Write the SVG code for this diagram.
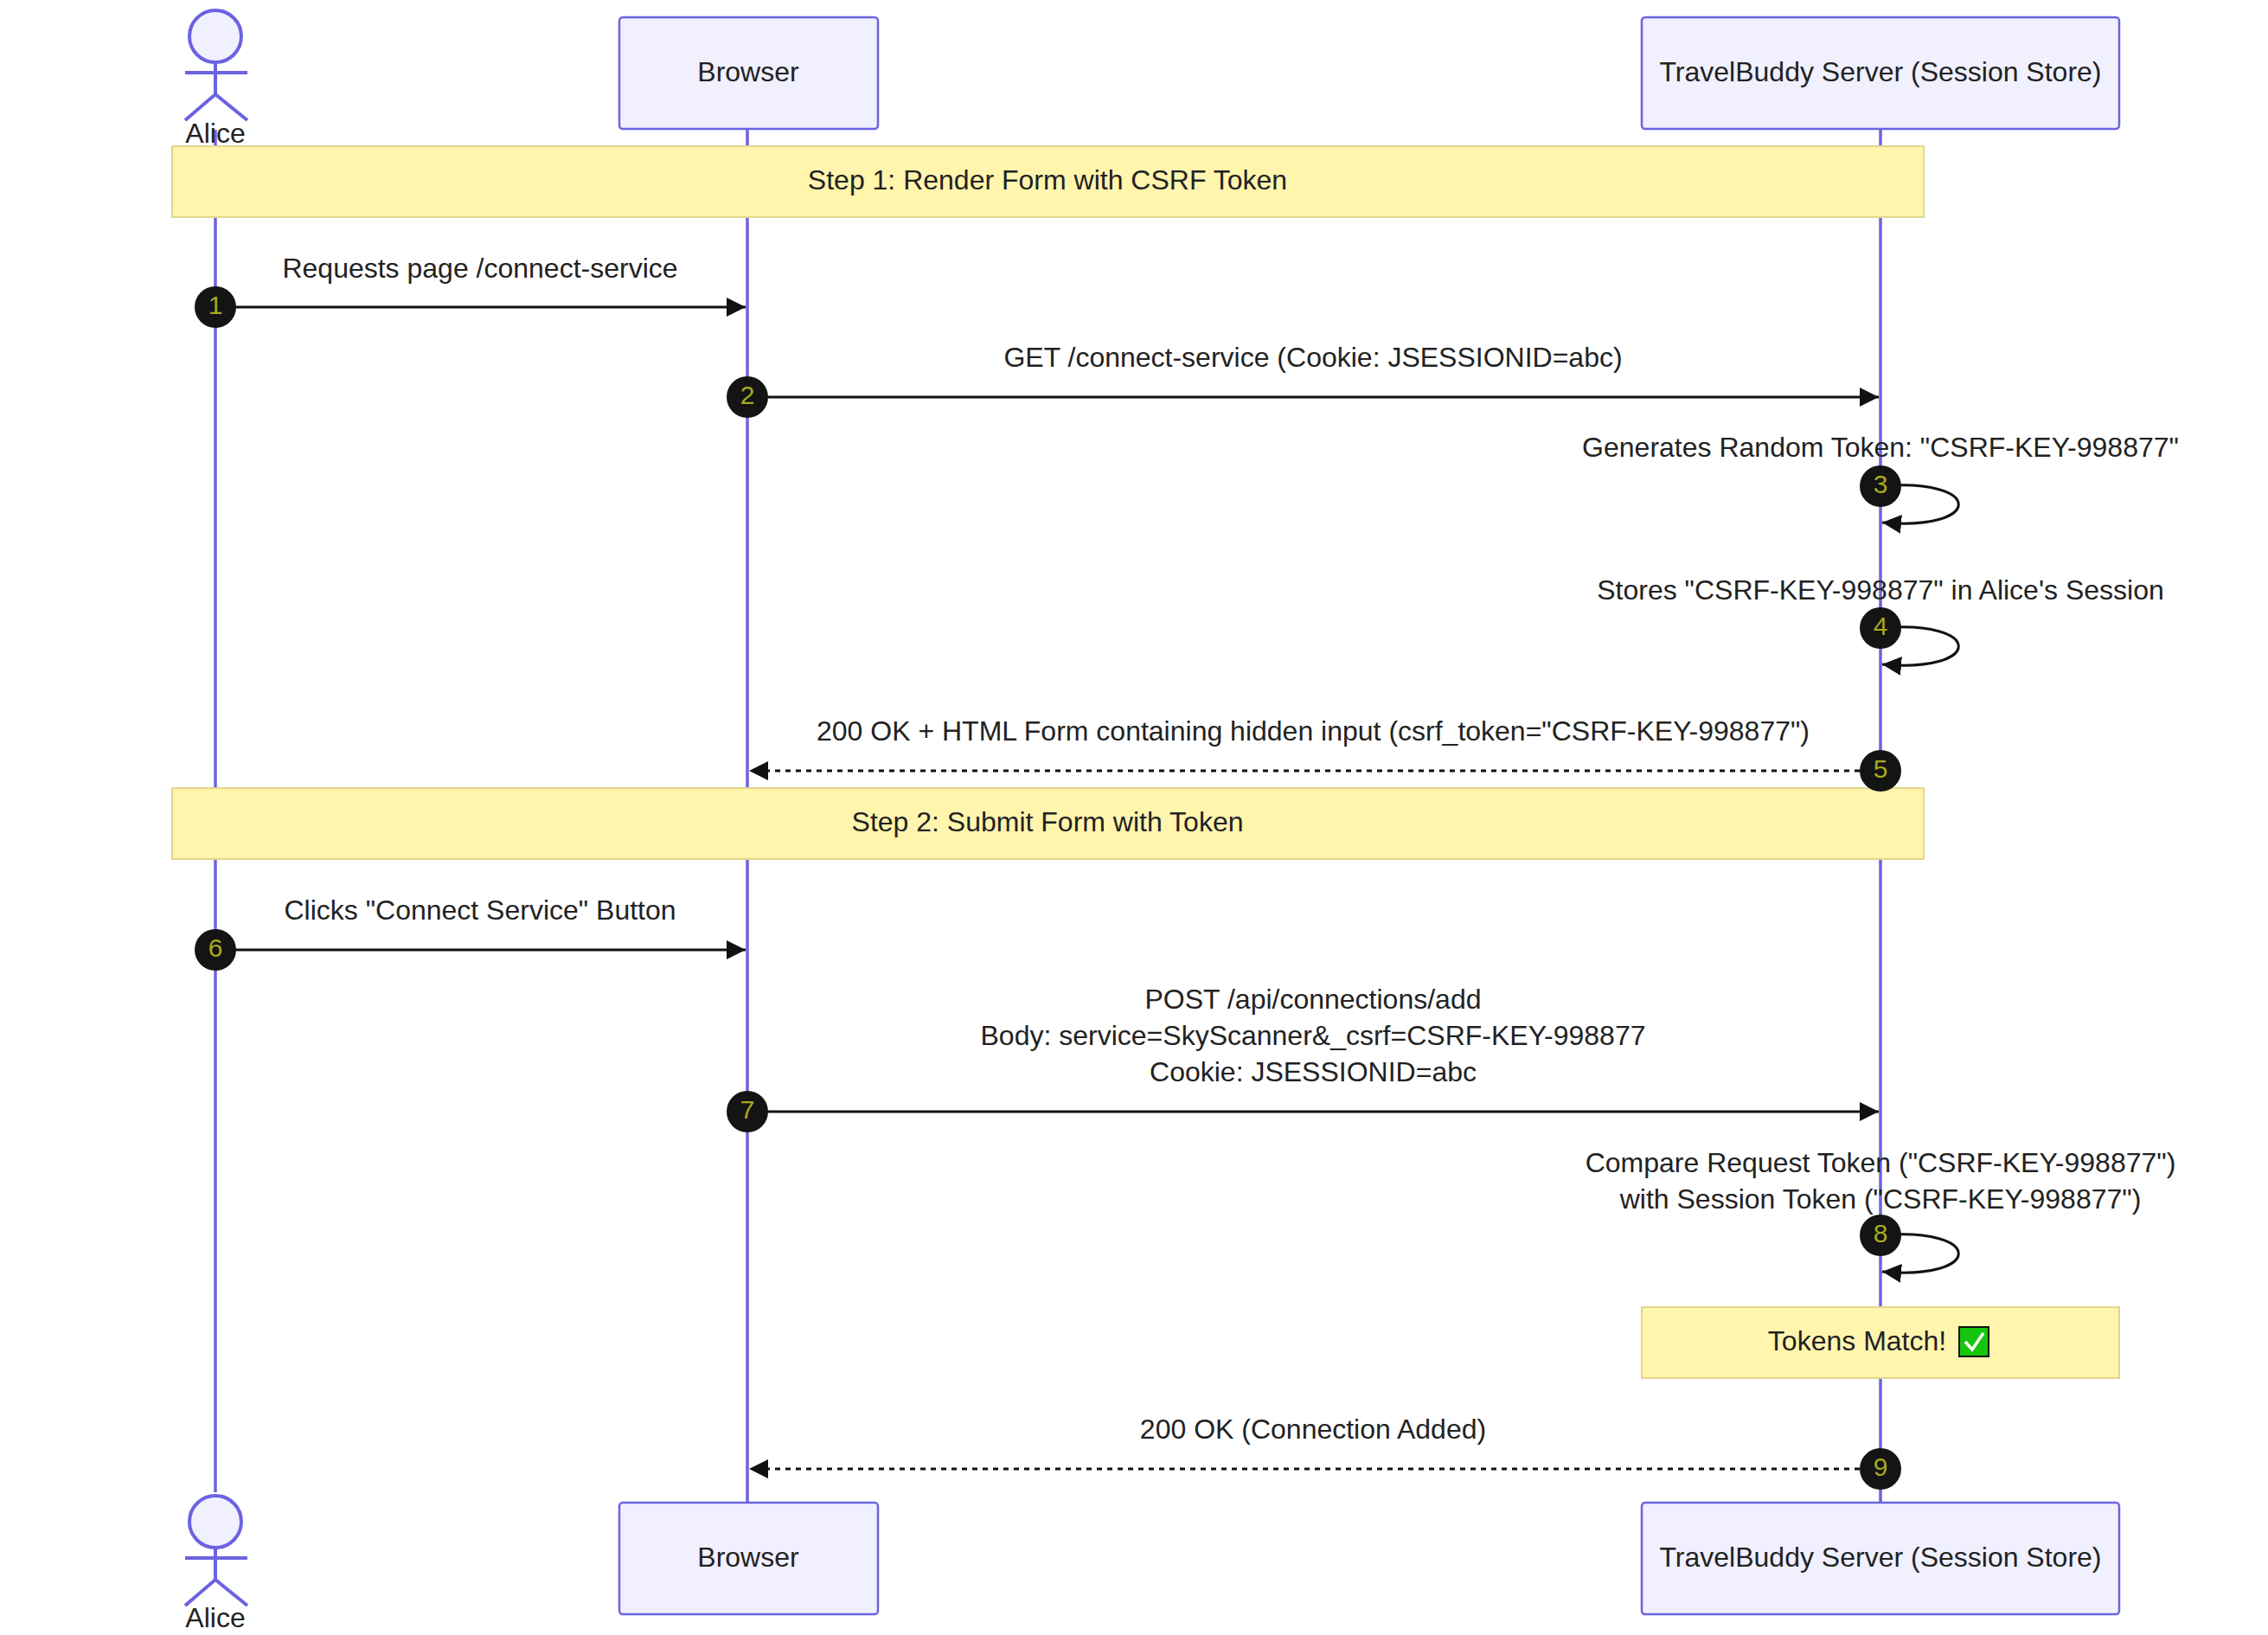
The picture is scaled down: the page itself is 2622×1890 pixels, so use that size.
<svg xmlns="http://www.w3.org/2000/svg" width="2622" height="1890" viewBox="0 0 2622 1890">
<style>
text{font-family:"Liberation Sans",Arial,sans-serif;font-size:32px;fill:#222;text-anchor:middle;dominant-baseline:middle}
.box{fill:#f0f0ff;stroke:#6b63e0;stroke-width:2.5}
.life{stroke:#6b63e0;stroke-width:3.5}
.note{fill:#fff5ad;stroke:#e3d68c;stroke-width:2}
.actor{fill:none;stroke:#6b63e0;stroke-width:4}
.msg{stroke:#111;stroke-width:3;fill:none}
.dash{stroke-dasharray:6,6}
.num circle{fill:#141414}
.num text{fill:#a8a820;font-size:30px}
</style>
<defs>
<marker id="ah" viewBox="0 0 10 10" refX="10" refY="5" markerWidth="22" markerHeight="22" markerUnits="userSpaceOnUse" orient="auto"><path d="M0,0 L10,5 L0,10 z" fill="#111"/></marker>
</defs>
<g id="lifelines">
<line class="life" x1="249" y1="150" x2="249" y2="1725"/>
<line class="life" x1="864" y1="149" x2="864" y2="1737"/>
<line class="life" x1="2174" y1="149" x2="2174" y2="1737"/>
</g>
<g id="alice-top">
<circle cx="249" cy="42" r="30" fill="#f0f0ff" stroke="#6b63e0" stroke-width="4"/>
<path class="actor" d="M249,72 V109 M214,84 H286 M214,139 L249,109 L286,139"/>
<text x="249" y="157">Alice</text>
</g>
<g id="browser-top"><rect class="box" x="716" y="20" width="299" height="129" rx="4"/><text x="865" y="86">Browser</text></g>
<g id="server-top"><rect class="box" x="1898" y="20" width="552" height="129" rx="4"/><text x="2174" y="86">TravelBuddy Server (Session Store)</text></g>
<g id="note1"><rect class="note" x="199" y="169" width="2025" height="82"/><text x="1211" y="211">Step 1: Render Form with CSRF Token</text></g>
<g id="note2"><rect class="note" x="199" y="911" width="2025" height="82"/><text x="1211" y="953">Step 2: Submit Form with Token</text></g>
<g id="note3"><rect class="note" x="1898" y="1511" width="552" height="82"/><text x="2147" y="1553">Tokens Match!</text>
<rect x="2265" y="1534" width="34" height="34" fill="#16c60c" stroke="#111" stroke-width="2"/><path d="M2272,1551 L2280,1560 L2293,1541" fill="none" stroke="#fff" stroke-width="3.5"/></g>
<g id="connectors">
<line class="msg" x1="249" y1="355" x2="862" y2="355" marker-end="url(#ah)"/>
<line class="msg" x1="864" y1="459" x2="2172" y2="459" marker-end="url(#ah)"/>
<path class="msg" d="M2174,562 C2294,552 2294,614 2176,604" marker-end="url(#ah)"/>
<path class="msg" d="M2174,726 C2294,716 2294,778 2176,768" marker-end="url(#ah)"/>
<line class="msg dash" x1="2174" y1="891" x2="866" y2="891" marker-end="url(#ah)"/>
<line class="msg" x1="249" y1="1098" x2="862" y2="1098" marker-end="url(#ah)"/>
<line class="msg" x1="864" y1="1285" x2="2172" y2="1285" marker-end="url(#ah)"/>
<path class="msg" d="M2174,1428 C2294,1418 2294,1480 2176,1470" marker-end="url(#ah)"/>
<line class="msg dash" x1="2174" y1="1698" x2="866" y2="1698" marker-end="url(#ah)"/>
</g>
<g id="labels">
<text x="555" y="313">Requests page /connect-service</text>
<text x="1518" y="416">GET /connect-service (Cookie: JSESSIONID=abc)</text>
<text x="2174" y="520">Generates Random Token: "CSRF-KEY-998877"</text>
<text x="2174" y="685">Stores "CSRF-KEY-998877" in Alice's Session</text>
<text x="1518" y="848">200 OK + HTML Form containing hidden input (csrf_token="CSRF-KEY-998877")</text>
<text x="555" y="1055">Clicks "Connect Service" Button</text>
<text x="1518" y="1158">POST /api/connections/add</text>
<text x="1518" y="1200">Body: service=SkyScanner&amp;_csrf=CSRF-KEY-998877</text>
<text x="1518" y="1242">Cookie: JSESSIONID=abc</text>
<text x="2174" y="1347">Compare Request Token ("CSRF-KEY-998877")</text>
<text x="2174" y="1389">with Session Token ("CSRF-KEY-998877")</text>
<text x="1518" y="1655">200 OK (Connection Added)</text>
</g>
<g id="numbers">
<g class="num"><circle cx="249" cy="355" r="24"/><text x="249" y="355">1</text></g>
<g class="num"><circle cx="864" cy="459" r="24"/><text x="864" y="459">2</text></g>
<g class="num"><circle cx="2174" cy="562" r="24"/><text x="2174" y="562">3</text></g>
<g class="num"><circle cx="2174" cy="726" r="24"/><text x="2174" y="726">4</text></g>
<g class="num"><circle cx="2174" cy="891" r="24"/><text x="2174" y="891">5</text></g>
<g class="num"><circle cx="249" cy="1098" r="24"/><text x="249" y="1098">6</text></g>
<g class="num"><circle cx="864" cy="1285" r="24"/><text x="864" y="1285">7</text></g>
<g class="num"><circle cx="2174" cy="1428" r="24"/><text x="2174" y="1428">8</text></g>
<g class="num"><circle cx="2174" cy="1698" r="24"/><text x="2174" y="1698">9</text></g>
</g>
<g id="alice-bottom">
<circle cx="249" cy="1759" r="30" fill="#f0f0ff" stroke="#6b63e0" stroke-width="4"/>
<path class="actor" d="M249,1789 V1826 M214,1801 H286 M214,1856 L249,1826 L286,1856"/>
<text x="249" y="1873">Alice</text>
</g>
<g id="browser-bottom"><rect class="box" x="716" y="1737" width="299" height="129" rx="4"/><text x="865" y="1803">Browser</text></g>
<g id="server-bottom"><rect class="box" x="1898" y="1737" width="552" height="129" rx="4"/><text x="2174" y="1803">TravelBuddy Server (Session Store)</text></g>
</svg>
